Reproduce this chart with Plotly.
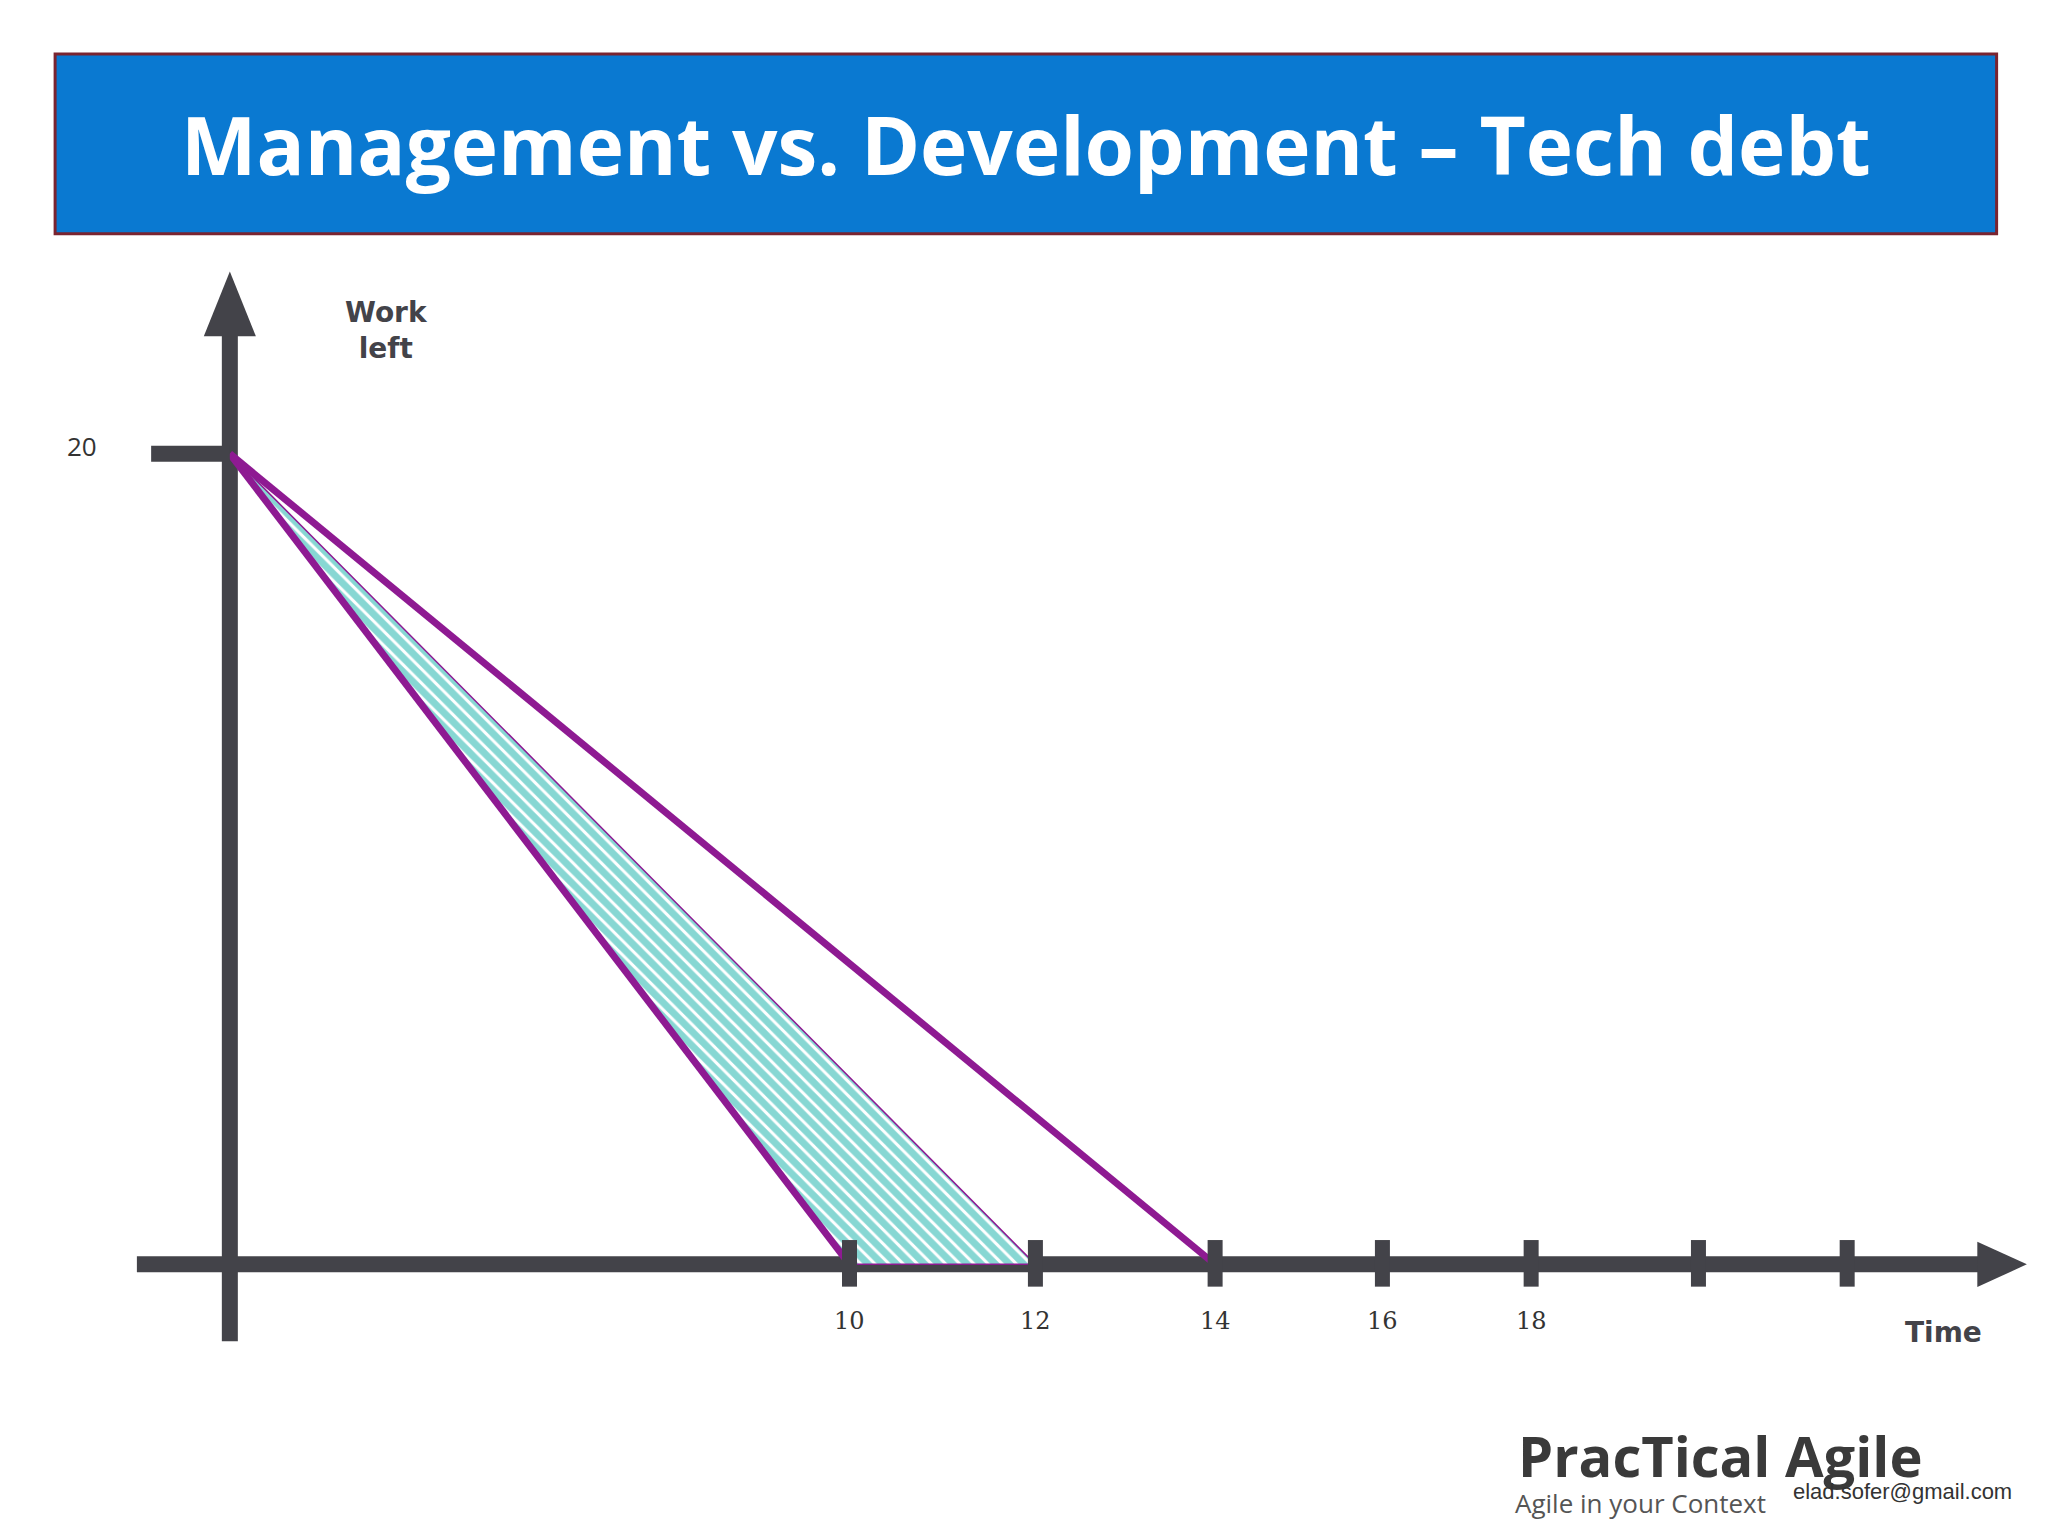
import plotly.graph_objects as go

# chart values
start_work = 20
tick_labels = ["10", "12", "14", "16", "18", "", ""]
tick_pos = [10.0, 13.0, 15.9, 18.6, 21.0, 23.7, 26.1]   # slide spacing of the time ticks
management_end = tick_pos[0]   # 10
debt_end = tick_pos[1]         # 12
development_end = tick_pos[2]  # 14

AX = "#434349"
PURPLE = "#8e1a92"
TEAL = "#0fb0a8"

fig = go.Figure()

# hatched tech-debt area
fig.add_trace(go.Scatter(
    x=[0, management_end, debt_end, 0], y=[start_work, 0, 0, start_work],
    mode="lines", fill="toself", line=dict(color=PURPLE, width=1.5),
    fillcolor="white",
    fillpattern=dict(shape="\\", fgcolor=TEAL, bgcolor="white", size=10, solidity=0.7),
    hoverinfo="skip"))

# management and development lines
fig.add_trace(go.Scatter(x=[0, management_end], y=[start_work, 0], mode="lines",
                         line=dict(color=PURPLE, width=7), hoverinfo="skip"))
fig.add_trace(go.Scatter(x=[0, development_end], y=[start_work, 0], mode="lines",
                         line=dict(color=PURPLE, width=7), hoverinfo="skip"))

shapes = []
# axes
shapes.append(dict(type="line", x0=0, x1=0, y0=-1.9, y1=23.2, line=dict(color=AX, width=16), layer="below"))
shapes.append(dict(type="line", x0=-1.5, x1=28.4, y0=0, y1=0, line=dict(color=AX, width=16), layer="below"))
shapes.append(dict(type="path", path="M -0.42 22.9 L 0 24.5 L 0.42 22.9 Z", fillcolor=AX, line=dict(width=0)))
shapes.append(dict(type="path", path="M 28.2 0.56 L 29.0 0 L 28.2 -0.56 Z", fillcolor=AX, line=dict(width=0)))
shapes.append(dict(type="line", x0=-1.27, x1=0, y0=start_work, y1=start_work, line=dict(color=AX, width=16)))
for p in tick_pos:
    shapes.append(dict(type="line", x0=p, x1=p, y0=-0.55, y1=0.6, line=dict(color=AX, width=15)))
# title banner
shapes.append(dict(type="rect", xref="paper", yref="paper", x0=0.023, x1=0.971, y0=0.853, y1=0.97,
                   fillcolor="#0a79d1", line=dict(color="#7a2430", width=3)))


def note(x, y, text, size, color, family="Open Sans", xref="paper", yref="paper"):
    return dict(xref=xref, yref=yref, x=x, y=y, text=text, showarrow=False,
                xanchor="center", yanchor="middle",
                font=dict(family=family, size=size, color=color))


annotations = [
    note(0.497, 0.912, "<b>Management vs. Development – Tech debt</b>", 80, "white"),
    note(0.185, 0.79, "<b>Work<br>left</b>", 28, AX, "DejaVu Sans"),
    note(0.036, 0.715, "20", 26, "#333"),
    note(0.945, 0.138, "<b>Time</b>", 28, AX, "DejaVu Sans"),
    note(0.836, 0.058, "<b>PracTical Agile</b>", 56, "#3a3a3a"),
    note(0.797, 0.027, "Agile in your Context", 26, "#555"),
    note(0.925, 0.034, "elad.sofer@gmail.com", 22, "#333", "Liberation Sans"),
]
for p, lab in zip(tick_pos, tick_labels):
    if lab:
        annotations.append(note(p, -1.4, lab, 24, "#333", "DejaVu Serif", "x", "y"))

fig.update_layout(
    width=2048, height=1536, margin=dict(l=0, r=0, t=0, b=0),
    paper_bgcolor="white", plot_bgcolor="white", showlegend=False,
    xaxis=dict(range=[-3.58, 29.47], visible=False),
    yaxis=dict(range=[-6.9, 31.0], visible=False),
    shapes=shapes, annotations=annotations,
)

fig.write_html("out.html")
